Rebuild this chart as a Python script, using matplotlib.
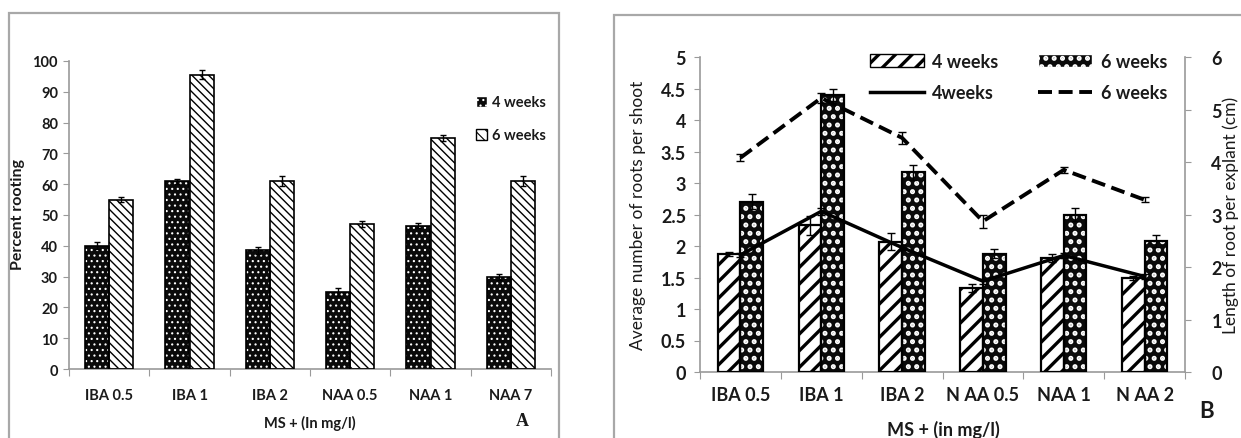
import matplotlib

matplotlib.use("Agg")

import matplotlib.pyplot as plt
import numpy as np
from matplotlib.lines import Line2D
from matplotlib.patches import Patch, Rectangle

plt.rcParams["font.family"] = ["Lato", "DejaVu Sans"]

# panel A - percent rooting
cats_a = ["IBA 0.5", "IBA 1", "IBA 2", "NAA 0.5", "NAA 1", "NAA 7"]
rooting_4wk = [40, 61, 38.5, 25, 46.5, 30]
rooting_4wk_err = [1.2, 0.8, 1.2, 1.3, 0.8, 1.0]
rooting_6wk = [55, 95.5, 61, 47, 75, 61]
rooting_6wk_err = [0.8, 1.5, 1.6, 0.9, 0.9, 1.7]

# panel B - roots per shoot (bars) and root length (lines)
cats_b = ["IBA 0.5", "IBA 1", "IBA 2", "N AA 0.5", "NAA 1", "N AA 2"]
roots_4wk = [1.87, 2.33, 2.07, 1.33, 1.81, 1.49]
roots_4wk_err = [0.03, 0.15, 0.14, 0.06, 0.06, 0.03]
roots_6wk = [2.7, 4.4, 3.17, 1.88, 2.5, 2.08]
roots_6wk_err = [0.12, 0.1, 0.12, 0.07, 0.1, 0.1]
length_4wk = [2.23, 3.06, 2.37, 1.73, 2.22, 1.82]
length_4wk_err = [0.04, 0.06, 0.05, 0.05, 0.04, 0.04]
length_6wk = [4.08, 5.22, 4.46, 2.87, 3.85, 3.28]
length_6wk_err = [0.07, 0.1, 0.12, 0.12, 0.06, 0.05]

TXT = "#1a1a1a"
GRID = "#9a9a9a"


def hatched_bars(ax, x, h, width, face, hatch, hatch_color, hatch_lw, edge_lw):
    # hatch width is picked up from rcParams when the patch is made
    plt.rcParams["hatch.linewidth"] = hatch_lw
    bars = ax.bar(x, h, width, color=face, hatch=hatch, edgecolor=hatch_color, linewidth=0, zorder=2)
    ax.bar(x, h, width, fill=False, edgecolor="black", linewidth=edge_lw, zorder=3)
    return bars


def style_axis(ax, n):
    for side in ["top", "right"]:
        ax.spines[side].set_visible(False)
    for side in ["left", "bottom"]:
        ax.spines[side].set_color(GRID)
        ax.spines[side].set_linewidth(1.2)
    ax.set_xlim(-0.5, n - 0.5)
    ax.set_xticks(np.arange(-0.5, n, 1.0))
    ax.set_xticklabels([])
    ax.tick_params(axis="x", which="major", length=5, color=GRID, direction="out")
    ax.tick_params(axis="y", length=4, color=GRID, direction="out")


fig = plt.figure(figsize=(12.41, 4.39), dpi=100)
W, H = 1241, 439

# outer frames
fig.add_artist(Rectangle((9 / W, -0.05), 550 / W, 1.05 - 14 / H, transform=fig.transFigure,
                         fill=False, edgecolor="#a8a8a8", linewidth=1.6))
fig.add_artist(Rectangle((614 / W, -0.05), 0.6, 1.05 - 16 / H, transform=fig.transFigure,
                         fill=False, edgecolor="#a8a8a8", linewidth=1.6))

# ---------------- panel A ----------------
axa = fig.add_axes([69 / W, 1 - 370 / H, 482 / W, 308 / H])
xa = np.arange(len(cats_a))
bw = 0.3
hatched_bars(axa, xa - bw / 2, rooting_4wk, bw, "#0a0a0a", "...", "white", 0.8, 1.2)
hatched_bars(axa, xa + bw / 2, rooting_6wk, bw, "white", "\\\\\\\\", "black", 1.0, 1.2)
axa.errorbar(xa - bw / 2, rooting_4wk, yerr=rooting_4wk_err, fmt="none", ecolor="black",
             elinewidth=1, capsize=2.5, zorder=4)
axa.errorbar(xa + bw / 2, rooting_6wk, yerr=rooting_6wk_err, fmt="none", ecolor="black",
             elinewidth=1, capsize=2.5, zorder=4)
style_axis(axa, len(cats_a))
axa.set_ylim(0, 100)
axa.set_yticks(np.arange(0, 101, 10))
axa.tick_params(axis="y", labelsize=10.5, labelcolor=TXT, pad=4)
for lab in axa.get_yticklabels():
    lab.set_fontweight("bold")
axa.set_xticks(xa, minor=True)
axa.set_xticklabels(cats_a, minor=True, fontsize=10.5, fontweight="bold", color=TXT)
axa.tick_params(axis="x", which="minor", length=0, pad=14)

fig.text(18 / W, 1 - 215 / H, "Percent rooting", rotation=90, ha="center", va="center",
         fontsize=11.5, fontweight="bold", color=TXT)
fig.text(310 / W, 1 - 423 / H, "MS + (In mg/l)", ha="center", va="center",
         fontsize=10.5, fontweight="bold", color=TXT)
fig.text(522 / W, 1 - 422 / H, "A", ha="center", va="center", fontsize=13,
         fontweight="bold", family=["Liberation Serif", "DejaVu Serif"], color=TXT)

plt.rcParams["hatch.linewidth"] = 0.8
leg_a = [Patch(facecolor="#0a0a0a", edgecolor="white", hatch="..."),
         Patch(facecolor="white", edgecolor="black", hatch="\\\\\\")]
la = fig.legend(leg_a, ["4 weeks", "6 weeks"], loc="upper left",
                bbox_to_anchor=(469 / W, 1 - 89 / H), frameon=False,
                prop={"size": 10.5, "weight": "bold"}, handlelength=0.75, handleheight=0.75,
                handletextpad=0.3, labelspacing=1.3, borderpad=0)
for t in la.get_texts():
    t.set_color(TXT)

# ---------------- panel B ----------------
axb = fig.add_axes([700 / W, 1 - 373 / H, 485 / W, 315 / H])
xb = np.arange(len(cats_b))
bw = 0.28
hatched_bars(axb, xb - bw / 2, roots_4wk, bw, "white", "//", "black", 2.4, 1.6)
hatched_bars(axb, xb + bw / 2, roots_6wk, bw, "#0a0a0a", "..", "white", 2.4, 1.6)
axb.errorbar(xb - bw / 2, roots_4wk, yerr=roots_4wk_err, fmt="none", ecolor="black",
             elinewidth=1, capsize=3, zorder=4)
axb.errorbar(xb + bw / 2, roots_6wk, yerr=roots_6wk_err, fmt="none", ecolor="black",
             elinewidth=1, capsize=3, zorder=4)
style_axis(axb, len(cats_b))
axb.set_ylim(0, 5)
axb.set_yticks(np.arange(0, 5.01, 0.5))
axb.set_yticklabels(["0", "0.5", "1", "1.5", "2", "2.5", "3", "3.5", "4", "4.5", "5"])
axb.tick_params(axis="y", labelsize=13, labelcolor=TXT, pad=6)
for lab in axb.get_yticklabels():
    lab.set_fontweight("bold")
axb.set_xticks(xb, minor=True)
axb.set_xticklabels(cats_b, minor=True, fontsize=13, fontweight="bold", color=TXT)
axb.tick_params(axis="x", which="minor", length=0, pad=10)

axr = axb.twinx()
axr.set_ylim(0, 6)
axr.set_yticks(range(0, 7))
for side in ["top", "left", "bottom"]:
    axr.spines[side].set_visible(False)
axr.spines["right"].set_color(GRID)
axr.spines["right"].set_linewidth(1.2)
axr.tick_params(axis="y", length=4, color=GRID, labelsize=13, labelcolor=TXT, pad=15)
for lab in axr.get_yticklabels():
    lab.set_fontweight("bold")
axr.errorbar(xb, length_4wk, yerr=length_4wk_err, color="black", linewidth=2.5,
             elinewidth=1, capsize=3, zorder=5)
axr.errorbar(xb, length_6wk, yerr=length_6wk_err, color="black", linewidth=2.8,
             linestyle=(0, (3.6, 1.7)), elinewidth=1, capsize=3, zorder=5)

fig.text(638 / W, 1 - 215 / H, "Average number of roots per shoot", rotation=90,
         ha="center", va="center", fontsize=12.5, color=TXT)
fig.text(1231 / W, 1 - 215 / H, "Length of root per explant (cm)", rotation=90,
         ha="center", va="center", fontsize=12.5, color=TXT)
fig.text(943 / W, 1 - 430 / H, "MS + (in mg/l)", ha="center", va="center",
         fontsize=13, fontweight="bold", color=TXT)
fig.text(1207 / W, 1 - 412 / H, "B", ha="center", va="center", fontsize=16,
         fontweight="bold", color=TXT)

plt.rcParams["hatch.linewidth"] = 2.4
leg_b = [Patch(facecolor="white", edgecolor="black", hatch="//"),
         Line2D([], [], color="black", linewidth=2.5),
         Patch(facecolor="#0a0a0a", edgecolor="white", hatch=".."),
         Line2D([], [], color="black", linewidth=2.8, linestyle=(0, (3.6, 1.7)))]
lb = fig.legend(leg_b, ["4 weeks", "4weeks", "6 weeks", "6 weeks"], ncol=2, loc="upper left",
                bbox_to_anchor=(861 / W, 1 - 45 / H), frameon=False,
                prop={"size": 13, "weight": "bold"}, handlelength=3.0, handleheight=0.75,
                handletextpad=0.45, labelspacing=0.8, columnspacing=2.2, borderpad=0)
for t in lb.get_texts():
    t.set_color(TXT)

fig.savefig("out.png", dpi=100)
